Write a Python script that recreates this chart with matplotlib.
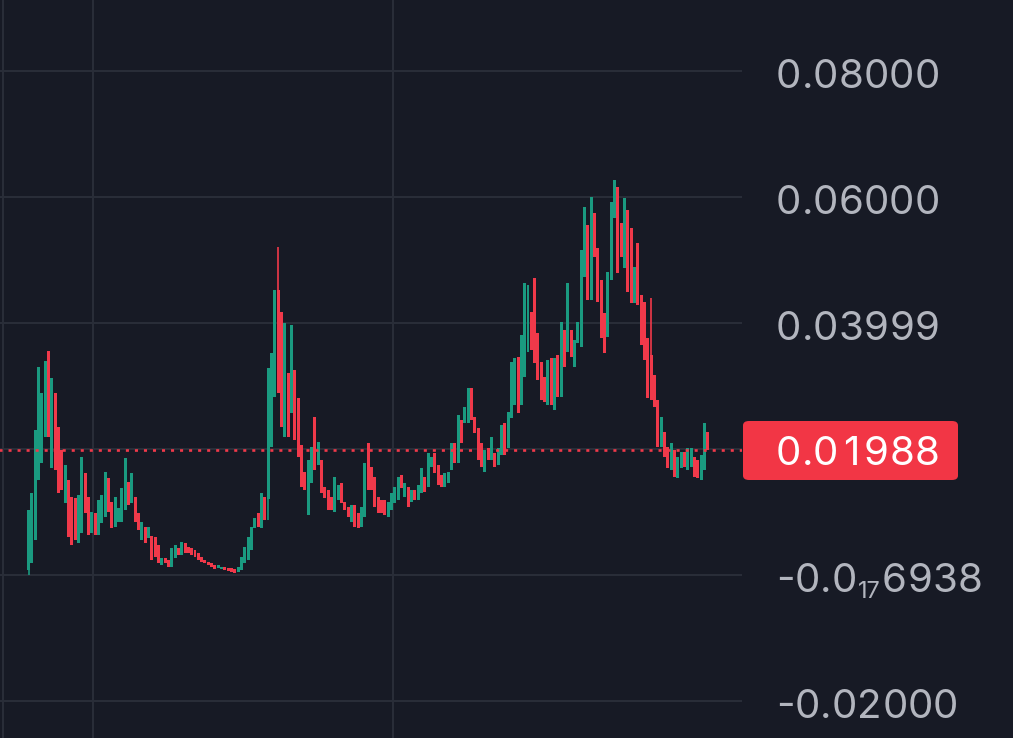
import numpy as np
import matplotlib
matplotlib.use("Agg")
import matplotlib.pyplot as plt
from matplotlib.patches import FancyBboxPatch
from matplotlib.font_manager import FontProperties

# ---- data (prices in units of 1e-3) ----
opens_e3 = [
    0.8, 1.9, 5.6, 15.1, 17.8, 21.9, 35.6, 17.0, 28.9, 23.5,
    19.8, 11.4, 15.1, 12.4, 12.2, 5.1, 6.7, 16.2, 12.4, 6.7,
    9.8, 6.3, 8.3, 9.2, 15.4, 11.6, 7.6, 8.4, 8.4, 10.3,
    14.8, 11.4, 12.4, 9.8, 5.6, 7.6, 5.9, 6.2, 6.0, 4.8,
    1.6, 2.7, 2.4, 1.3, 2.7, 4.3, 3.2, 5.1, 4.4, 4.3,
    4.0, 3.5, 2.9, 2.4, 2.1, 1.9, 1.6, 1.1, 1.0, 1.3,
    1.1, 1.1, 1.0, 0.5, 0.8, 1.9, 2.4, 4.0, 7.5, 9.8,
    7.5, 12.4, 12.0, 20.3, 28.3, 45.2, 41.7, 21.9, 32.1, 25.7,
    32.5, 28.1, 20.6, 16.3, 9.5, 14.6, 25.1, 17.5, 18.3, 14.0,
    13.5, 12.4, 10.0, 11.9, 14.6, 11.6, 10.8, 8.4, 11.1, 9.8,
    7.6, 9.2, 21.0, 17.1, 15.6, 12.4, 11.9, 11.9, 9.2, 10.3,
    11.4, 11.9, 15.9, 12.4, 14.0, 11.6, 13.5, 11.9, 13.0, 15.6,
    14.0, 17.1, 19.4, 17.5, 15.9, 14.0, 14.6, 16.7, 21.0, 17.8,
    24.6, 24.1, 24.1, 29.7, 25.1, 23.3, 21.0, 16.3, 20.2, 18.3,
    19.4, 17.5, 19.0, 24.1, 20.2, 24.9, 27.0, 34.6, 27.0, 31.4,
    35.4, 41.7, 47.1, 38.4, 33.8, 31.4, 27.0, 34.4, 26.2, 34.9,
    28.3, 38.9, 35.4, 38.9, 33.0, 36.8, 36.2, 47.3, 55.6, 43.7,
    57.5, 51.9, 46.8, 41.6, 37.8, 46.8, 56.7, 61.6, 55.9, 48.7,
    57.9, 55.1, 43.2, 52.7, 44.4, 43.3, 37.6, 35.0, 31.7, 27.8,
    20.3, 22.7, 20.3, 16.7, 19.8, 15.4, 17.0, 19.5, 16.7, 17.1,
    18.7, 18.3, 15.1, 16.7, 22.7,
]
closes_e3 = [
    10.3, 13.0, 23.0, 33.0, 28.9, 34.0, 21.9, 31.3, 16.7, 13.0,
    13.5, 17.5, 6.0, 4.8, 5.6, 12.7, 18.7, 9.8, 6.3, 10.0,
    6.3, 11.9, 12.7, 16.3, 10.0, 7.5, 12.4, 10.6, 13.8, 18.6,
    11.1, 16.2, 8.4, 7.1, 8.4, 5.1, 7.6, 2.4, 2.9, 1.9,
    2.7, 1.9, 1.3, 4.3, 4.8, 3.2, 5.2, 3.5, 3.5, 3.2,
    2.9, 2.4, 2.1, 1.9, 1.6, 1.3, 1.0, 1.6, 1.3, 0.8,
    0.6, 0.5, 0.3, 1.3, 2.9, 4.4, 6.0, 7.6, 9.0, 7.6,
    13.0, 8.7, 32.9, 35.2, 45.2, 28.9, 23.5, 40.0, 21.9, 39.7,
    21.4, 18.7, 14.0, 13.5, 18.3, 20.3, 16.7, 21.1, 13.0, 12.2,
    10.3, 10.3, 15.6, 14.3, 11.4, 10.3, 9.2, 11.1, 7.6, 7.5,
    10.8, 17.8, 13.5, 13.5, 10.8, 9.8, 9.8, 9.5, 11.6, 13.0,
    14.0, 15.6, 13.8, 14.6, 10.8, 13.5, 11.9, 14.3, 17.0, 13.2,
    19.4, 18.7, 16.2, 14.3, 14.0, 16.2, 16.3, 21.0, 17.8, 25.4,
    21.0, 26.7, 29.7, 24.6, 22.5, 18.3, 17.1, 19.8, 18.3, 21.9,
    17.1, 20.2, 23.8, 19.0, 25.9, 33.8, 34.4, 25.7, 38.1, 46.3,
    46.0, 35.7, 33.7, 30.9, 27.8, 27.5, 34.1, 27.0, 34.4, 28.3,
    40.2, 33.0, 46.3, 34.6, 37.3, 40.2, 51.6, 58.4, 43.7, 60.0,
    50.5, 43.3, 37.6, 35.2, 48.1, 59.2, 62.7, 47.9, 50.5, 59.8,
    44.9, 43.2, 48.9, 42.9, 36.5, 34.1, 28.1, 27.8, 26.7, 20.3,
    25.1, 18.7, 17.0, 21.0, 15.6, 18.7, 19.5, 17.1, 20.2, 20.2,
    15.6, 15.4, 19.0, 24.1, 19.88,
]
highs_e3 = [
    10.3, 13.0, 23.0, 33.0, 28.9, 34.0, 35.6, 31.3, 28.9, 23.5,
    19.8, 17.5, 15.1, 12.4, 12.2, 12.7, 18.7, 16.2, 12.4, 10.0,
    9.8, 11.9, 12.7, 16.3, 15.4, 11.6, 12.4, 10.6, 13.8, 18.6,
    14.8, 16.2, 12.4, 9.8, 8.4, 7.6, 7.6, 6.2, 6.0, 4.8,
    2.7, 2.7, 2.4, 4.3, 4.8, 4.3, 5.2, 5.1, 4.4, 4.3,
    4.0, 3.5, 2.9, 2.4, 2.1, 1.9, 1.6, 1.6, 1.3, 1.3,
    1.1, 1.1, 1.0, 1.3, 2.9, 4.4, 6.0, 7.6, 9.0, 9.8,
    13.0, 12.4, 32.9, 35.2, 45.2, 52.1, 41.7, 40.0, 32.1, 39.7,
    32.5, 28.1, 20.6, 16.3, 18.3, 20.3, 25.1, 21.1, 18.3, 14.0,
    13.5, 12.4, 15.6, 14.3, 14.6, 11.6, 10.8, 11.1, 11.1, 9.8,
    10.8, 17.8, 21.0, 17.1, 15.6, 12.4, 11.9, 11.9, 11.6, 13.0,
    14.0, 15.6, 15.9, 14.6, 14.0, 13.5, 13.5, 14.3, 17.0, 15.6,
    19.4, 18.7, 19.4, 17.5, 15.9, 16.2, 16.3, 21.0, 21.0, 25.4,
    24.6, 26.7, 29.7, 29.7, 25.1, 23.3, 21.0, 19.8, 20.2, 21.9,
    19.4, 20.2, 23.8, 24.1, 25.9, 33.8, 34.4, 34.6, 38.1, 46.3,
    46.0, 41.7, 47.1, 38.4, 33.8, 31.4, 34.1, 34.4, 34.4, 34.9,
    40.2, 38.9, 46.3, 38.9, 37.3, 40.2, 51.6, 58.4, 55.6, 60.0,
    57.5, 51.9, 46.8, 41.6, 48.1, 59.2, 62.7, 61.6, 55.9, 59.8,
    57.9, 55.1, 48.9, 52.7, 44.4, 43.3, 37.6, 44.0, 31.7, 27.8,
    25.1, 22.7, 20.3, 21.0, 19.8, 18.7, 19.5, 19.5, 20.2, 20.2,
    18.7, 18.3, 19.0, 24.1, 22.7,
]
lows_e3 = [
    0.0, 1.9, 5.6, 15.1, 17.8, 21.9, 21.9, 17.0, 16.7, 13.0,
    13.5, 11.4, 6.0, 4.8, 5.6, 5.1, 6.7, 9.8, 6.3, 6.7,
    6.3, 6.3, 8.3, 9.2, 10.0, 7.5, 7.6, 8.4, 8.4, 10.3,
    11.1, 11.4, 8.4, 7.1, 5.6, 5.1, 5.9, 2.4, 2.9, 1.9,
    1.6, 1.9, 1.3, 1.3, 2.7, 3.2, 3.2, 3.5, 3.5, 3.2,
    2.9, 2.4, 2.1, 1.9, 1.6, 1.3, 1.0, 1.1, 1.0, 0.8,
    0.6, 0.5, 0.3, 0.5, 0.8, 1.9, 2.4, 4.0, 7.5, 7.6,
    7.5, 8.7, 8.7, 20.3, 28.3, 28.9, 23.5, 21.9, 21.9, 25.7,
    21.4, 18.7, 14.0, 13.5, 9.5, 14.6, 16.7, 17.5, 13.0, 12.2,
    10.3, 10.3, 10.0, 11.9, 11.4, 10.3, 9.2, 8.4, 7.6, 7.5,
    7.6, 9.2, 13.5, 13.5, 10.8, 9.8, 9.8, 9.5, 9.2, 10.3,
    11.4, 11.9, 13.8, 12.4, 10.8, 11.6, 11.9, 11.9, 13.0, 13.2,
    14.0, 17.1, 16.2, 14.3, 14.0, 14.0, 14.6, 16.7, 17.8, 17.8,
    21.0, 24.1, 24.1, 24.6, 22.5, 18.3, 17.1, 16.3, 18.3, 18.3,
    17.1, 17.5, 19.0, 19.0, 20.2, 24.9, 27.0, 25.7, 27.0, 31.4,
    35.4, 35.7, 33.7, 30.9, 27.8, 27.5, 27.0, 27.0, 26.2, 28.3,
    28.3, 33.0, 35.4, 34.6, 33.0, 36.8, 36.2, 47.3, 43.7, 43.7,
    50.5, 43.3, 37.6, 35.2, 37.8, 46.8, 56.7, 47.9, 50.5, 48.7,
    44.9, 43.2, 43.2, 42.9, 36.5, 34.1, 28.1, 27.8, 26.7, 20.3,
    20.3, 18.7, 17.0, 16.7, 15.6, 15.4, 17.0, 17.1, 16.7, 17.1,
    15.6, 15.4, 15.1, 16.7, 19.88,
]
tick_values = [0.08, 0.06, 0.04, 0.0, -0.02]
# each label: (main part, subscript zero count, tail)
tick_labels = [("0.08000", "", ""), ("0.06000", "", ""), ("0.03999", "", ""),
               ("-0.0", "17", "6938"), ("-0.02000", "", "")]
last_price = 0.01988
last_label = "0.01988"

# ---- style ----
W, H = 1013, 738
BG = "#171a25"
GRID = "#2a2e39"
UP = "#1a9a80"
DOWN = "#f0394a"
TXT = "#b2b5be"
PLOT_W = 742
LABEL_X = 776
FS = 29
fam = ["Inter", "DejaVu Sans"]

fig = plt.figure(figsize=(W / 100, H / 100), dpi=100)
fig.patch.set_facecolor(BG)
ax = fig.add_axes([0, 0, PLOT_W / W, 1])
ax.set_facecolor(BG)
for s in ax.spines.values():
    s.set_visible(False)
ax.set_xticks([])
ax.set_yticks([])

o = np.array(opens_e3) * 1e-3
c = np.array(closes_e3) * 1e-3
hi = np.array(highs_e3) * 1e-3
lo = np.array(lows_e3) * 1e-3
n = len(c)
idx = np.arange(n)

step_px = 3.33
first_px = 28.5
ax.set_xlim(-first_px / step_px, (PLOT_W - first_px) / step_px)
ax.set_ylim(-0.02587, 0.09127)

# grid
for v in [0.08, 0.06, 0.04, 0.02, 0.0, -0.02]:
    ax.axhline(v, color=GRID, lw=1.4, zorder=0)
for xp in [3, 93, 393]:
    ax.axvline((xp - first_px) / step_px, color=GRID, lw=1.4, zorder=0)

up = c >= o
colors = np.where(up, UP, DOWN)
ax.vlines(idx, lo, hi, colors=colors, lw=1.2, zorder=2)
bottom = np.minimum(o, c)
height = np.abs(c - o)
ax.bar(idx, height, bottom=bottom, width=0.9, color=colors, linewidth=0, zorder=3)

# last price dotted line
plt.rcParams["lines.scale_dashes"] = False
ax.plot([-100, 400], [last_price, last_price], color=DOWN, lw=1.9,
        dashes=(2.2, 4.3), zorder=4)

# last price box
box = FancyBboxPatch((743 / W, (H - 480) / H), (958 - 743) / W, 59 / H,
                     boxstyle="round,pad=0,rounding_size=0.006",
                     transform=fig.transFigure, facecolor="#f23645",
                     edgecolor="none", zorder=5)
fig.add_artist(box)

# tabular-figure labels
renderer = fig.canvas.get_renderer()
fp = FontProperties(family=fam, size=FS)
fp_sub = FontProperties(family=fam, size=FS * 0.58)
digit_w = renderer.get_text_width_height_descent("0", fp, ismath=False)[0]


def tab_text(x_px, y_px, s, color):
    x = x_px
    for ch in s:
        if ch in "0123456789":
            adv = digit_w
        else:
            adv = renderer.get_text_width_height_descent(ch, fp, ismath=False)[0]
        fig.text((x + adv / 2) / W, 1 - y_px / H, ch, ha="center",
                 va="center_baseline", color=color, fontproperties=fp, zorder=6)
        x += adv
    return x


def price_to_px(v):
    return 575 - v * 6300


for v, (main, sub, tail) in zip(tick_values, tick_labels):
    yp = price_to_px(v) + 2
    x_end = tab_text(LABEL_X, yp, main, TXT)
    if sub:
        sw = renderer.get_text_width_height_descent(sub, fp_sub, ismath=False)[0]
        fig.text((x_end + 1) / W, 1 - (yp + 13) / H, sub, ha="left",
                 va="center_baseline", color=TXT, fontproperties=fp_sub, zorder=6)
        tab_text(x_end + sw + 2, yp, tail, TXT)
tab_text(LABEL_X, price_to_px(last_price) + 1, last_label, "white")

fig.savefig("out.png", dpi=100, facecolor=BG)
